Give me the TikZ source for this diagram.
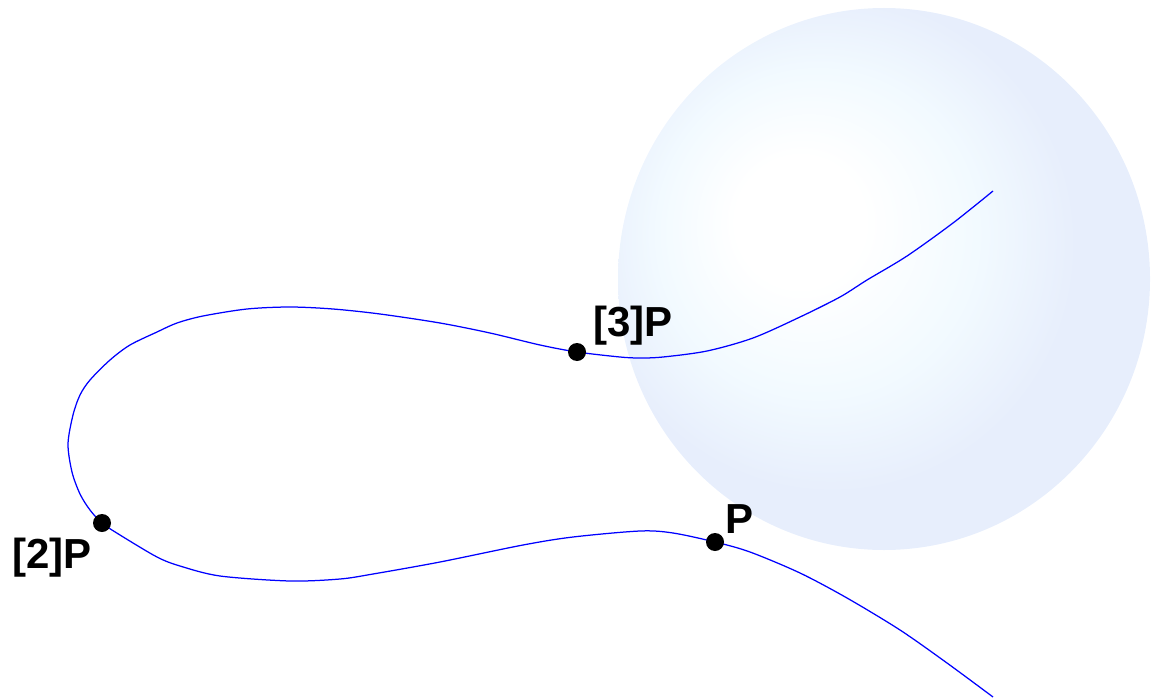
\documentclass[tikz,border=0pt]{standalone}
\usepackage{fontspec}
\setmainfont{Liberation Sans}
\definecolor{sbA}{RGB}{242,250,255}
\definecolor{sbB}{RGB}{231,238,252}
\pgfdeclareradialshading{spherelight}{\pgfqpoint{-9bp}{6bp}}{%
  color(0bp)=(white); color(6bp)=(white); color(15bp)=(sbA); color(23bp)=(sbB); color(25bp)=(sbB); color(50bp)=(sbB)}
\tikzset{
  curve/.style={draw=blue, line width=1.25pt, line join=round},
  dotmark/.style={circle, fill=black, inner sep=0pt, minimum size=18pt},
  lbl/.style={inner sep=0pt, font=\fontsize{42}{50}\selectfont\bfseries}
}
\begin{document}
\begin{tikzpicture}[x=1pt,y=-1pt]
\useasboundingbox (0,0) rectangle (1158,698);
\shade[shading=spherelight] (884,279) ellipse [x radius=266, y radius=271];
\draw[curve] plot[smooth, tension=0.5] coordinates {
(993,191) (953,223) (907,256) (867,280) (840,297) (800,317) (753,338) (707,351)
(663,357) (640,358) (620,357) (577,352) (540,345) (490,333) (440,323) (380,314)
(333,309) (290,307) (247,309) (203,316) (177,323) (157,332) (130,345) (110,360)
(90,380) (80,395) (73,415) (68,444) (72,472) (80,494) (90,510) (102,523)
(120,535) (157,557) (180,566) (220,576) (290,581) (340,579) (373,574) (440,562)
(523,545) (573,537) (640,531) (673,533) (715,542) (750,552) (800,573) (847,598)
(900,630) (947,663) (993,697)};
\node[dotmark] (p1) at (715,542) {};
\node[dotmark] (p2) at (102,523) {};
\node[dotmark] (p3) at (577,352) {};
\node[lbl, anchor=base west] (l1) at (725,533) {P};
\node[lbl, anchor=base west] (l2) at (12,568) {[2]P};
\node[lbl, anchor=base west] (l3) at (593,336) {[3]P};
\end{tikzpicture}
\end{document}
